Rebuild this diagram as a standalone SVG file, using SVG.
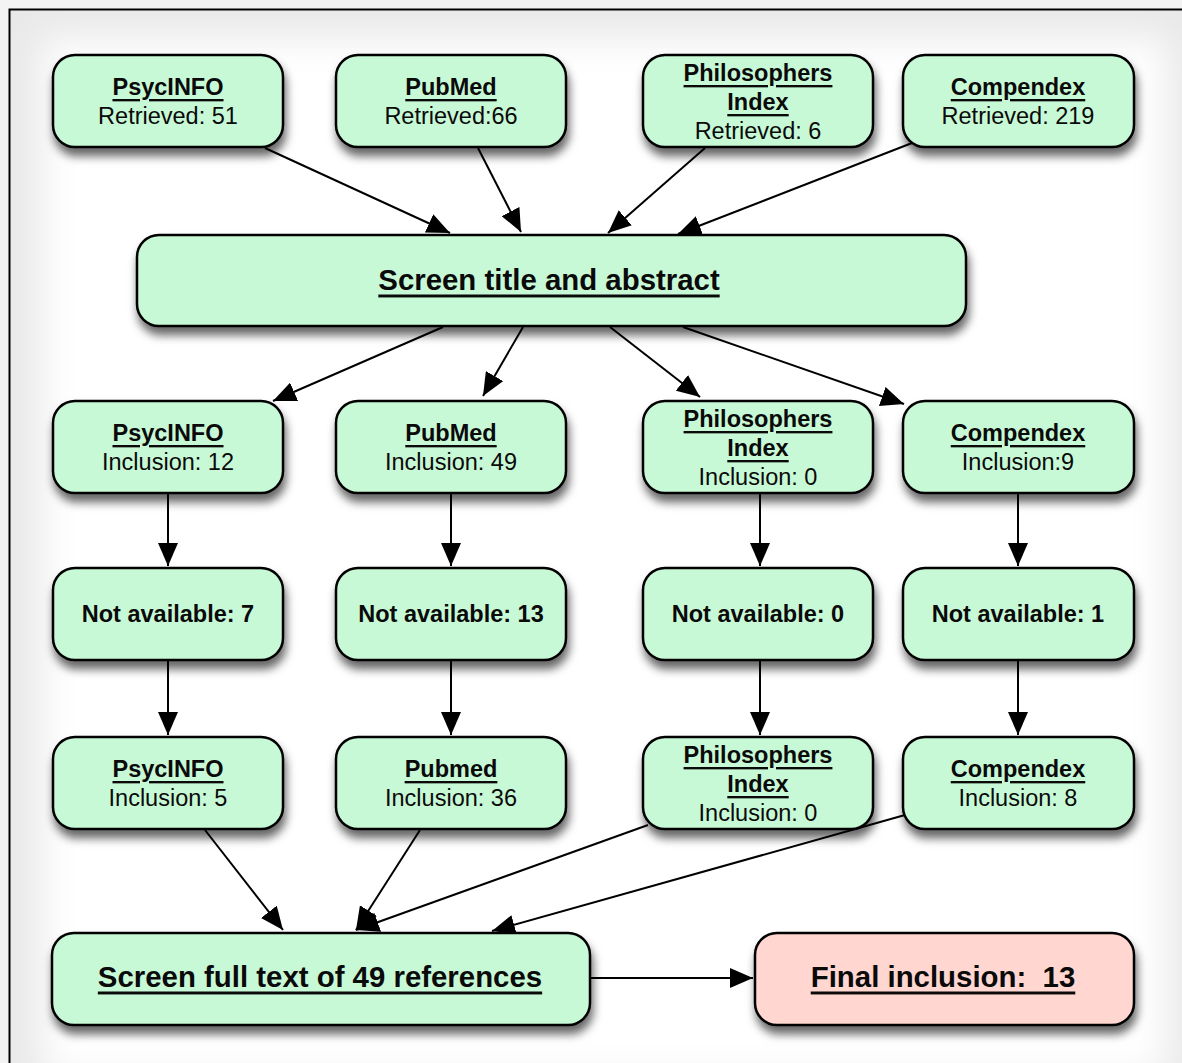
<svg xmlns="http://www.w3.org/2000/svg" width="1182" height="1063" viewBox="0 0 1182 1063">
<defs>
<style>
.box{fill:#c8f9d6;stroke:#000;stroke-width:2.5;filter:url(#sh)}
.pink{fill:#ffd7d0}
text{font-family:"Liberation Sans",Arial,sans-serif;fill:#0a0a0a;text-anchor:middle;dominant-baseline:central}
.t{font-weight:bold;font-size:23.5px;text-decoration:underline}
.n{font-size:23.5px}
.b{font-weight:bold;font-size:23.5px}
.big{font-weight:bold;font-size:29.4px;text-decoration:underline}
.c line{stroke:#000;stroke-width:2;marker-end:url(#ah)}
</style>
<filter id="sh" x="-20%" y="-30%" width="140%" height="170%">
<feDropShadow dx="2" dy="8" stdDeviation="5" flood-color="#000" flood-opacity="0.6"/>
</filter>
<filter id="bl" x="-10%" y="-10%" width="120%" height="120%"><feGaussianBlur stdDeviation="18"/></filter>
<marker id="ah" markerUnits="userSpaceOnUse" markerWidth="24" markerHeight="20" refX="23" refY="10" orient="auto">
<path d="M0,0 L23,10 L0,20 z" fill="#000"/>
</marker>
</defs>
<rect x="0" y="0" width="1182" height="1063" fill="#f3f3f3"/>
<rect x="10" y="10" width="1172" height="1053" fill="#e9e9e9"/>
<rect x="42" y="38" width="1125" height="1040" fill="#fff" filter="url(#bl)"/>
<path d="M9.5,1063 V9.5 H1182" fill="none" stroke="#000" stroke-width="2"/>

<g class="c" id="connectors">
<line x1="265" y1="148" x2="450" y2="233"/>
<line x1="478" y1="148" x2="521" y2="232"/>
<line x1="705" y1="148" x2="608" y2="233"/>
<line x1="912" y1="143" x2="678" y2="234"/>
<line x1="443" y1="327" x2="273" y2="401"/>
<line x1="523" y1="327" x2="483" y2="396"/>
<line x1="610" y1="327" x2="700" y2="397"/>
<line x1="683" y1="327" x2="904" y2="404"/>
<line x1="168" y1="494" x2="168" y2="566"/>
<line x1="451" y1="494" x2="451" y2="566"/>
<line x1="760" y1="494" x2="760" y2="566"/>
<line x1="1018" y1="494" x2="1018" y2="566"/>
<line x1="168" y1="661" x2="168" y2="735"/>
<line x1="451" y1="661" x2="451" y2="735"/>
<line x1="760" y1="661" x2="760" y2="735"/>
<line x1="1018" y1="661" x2="1018" y2="735"/>
<line x1="205" y1="830" x2="283" y2="930"/>
<line x1="420" y1="830" x2="356" y2="930"/>
<line x1="648" y1="825" x2="356" y2="930"/>
<line x1="905" y1="815" x2="492" y2="931"/>
<line x1="590" y1="978" x2="753" y2="978"/>
</g>

<g id="n-psyc-ret"><rect class="box" x="53" y="55" width="230" height="92" rx="22"/><text class="t" x="168" y="87">PsycINFO</text><text class="n" x="168" y="116">Retrieved: 51</text></g>
<g id="n-pub-ret"><rect class="box" x="336" y="55" width="230" height="92" rx="22"/><text class="t" x="451" y="87">PubMed</text><text class="n" x="451" y="116">Retrieved:66</text></g>
<g id="n-phil-ret"><rect class="box" x="643" y="55" width="230" height="92" rx="22"/><text class="t" x="758" y="73">Philosophers</text><text class="t" x="758" y="102">Index</text><text class="n" x="758" y="131">Retrieved: 6</text></g>
<g id="n-comp-ret"><rect class="box" x="903" y="55" width="231" height="92" rx="22"/><text class="t" x="1018" y="87">Compendex</text><text class="n" x="1018" y="116">Retrieved: 219</text></g>

<g id="n-screen-title"><rect class="box" x="137" y="235" width="829" height="91" rx="22"/><text class="big" x="549" y="279">Screen title and abstract</text></g>

<g id="n-psyc-inc"><rect class="box" x="53" y="401" width="230" height="92" rx="22"/><text class="t" x="168" y="433">PsycINFO</text><text class="n" x="168" y="462">Inclusion: 12</text></g>
<g id="n-pub-inc"><rect class="box" x="336" y="401" width="230" height="92" rx="22"/><text class="t" x="451" y="433">PubMed</text><text class="n" x="451" y="462">Inclusion: 49</text></g>
<g id="n-phil-inc"><rect class="box" x="643" y="401" width="230" height="92" rx="22"/><text class="t" x="758" y="419">Philosophers</text><text class="t" x="758" y="448">Index</text><text class="n" x="758" y="477">Inclusion: 0</text></g>
<g id="n-comp-inc"><rect class="box" x="903" y="401" width="231" height="92" rx="22"/><text class="t" x="1018" y="433">Compendex</text><text class="n" x="1018" y="462">Inclusion:9</text></g>

<g id="n-psyc-na"><rect class="box" x="53" y="568" width="230" height="92" rx="22"/><text class="b" x="168" y="614">Not available: 7</text></g>
<g id="n-pub-na"><rect class="box" x="336" y="568" width="230" height="92" rx="22"/><text class="b" x="451" y="614">Not available: 13</text></g>
<g id="n-phil-na"><rect class="box" x="643" y="568" width="230" height="92" rx="22"/><text class="b" x="758" y="614">Not available: 0</text></g>
<g id="n-comp-na"><rect class="box" x="903" y="568" width="231" height="92" rx="22"/><text class="b" x="1018" y="614">Not available: 1</text></g>

<g id="n-psyc-ft"><rect class="box" x="53" y="737" width="230" height="92" rx="22"/><text class="t" x="168" y="769">PsycINFO</text><text class="n" x="168" y="798">Inclusion: 5</text></g>
<g id="n-pub-ft"><rect class="box" x="336" y="737" width="230" height="92" rx="22"/><text class="t" x="451" y="769">Pubmed</text><text class="n" x="451" y="798">Inclusion: 36</text></g>
<g id="n-phil-ft"><rect class="box" x="643" y="737" width="230" height="92" rx="22"/><text class="t" x="758" y="755">Philosophers</text><text class="t" x="758" y="784">Index</text><text class="n" x="758" y="813">Inclusion: 0</text></g>
<g id="n-comp-ft"><rect class="box" x="903" y="737" width="231" height="92" rx="22"/><text class="t" x="1018" y="769">Compendex</text><text class="n" x="1018" y="798">Inclusion: 8</text></g>

<g id="n-screen-full"><rect class="box" x="52" y="933" width="538" height="92" rx="22"/><text class="big" x="320" y="976">Screen full text of 49 references</text></g>
<g id="n-final"><rect class="box pink" x="755" y="933" width="379" height="92" rx="22"/><text class="big" x="943" y="976" xml:space="preserve" style="white-space:pre">Final inclusion:  13</text></g>
</svg>
